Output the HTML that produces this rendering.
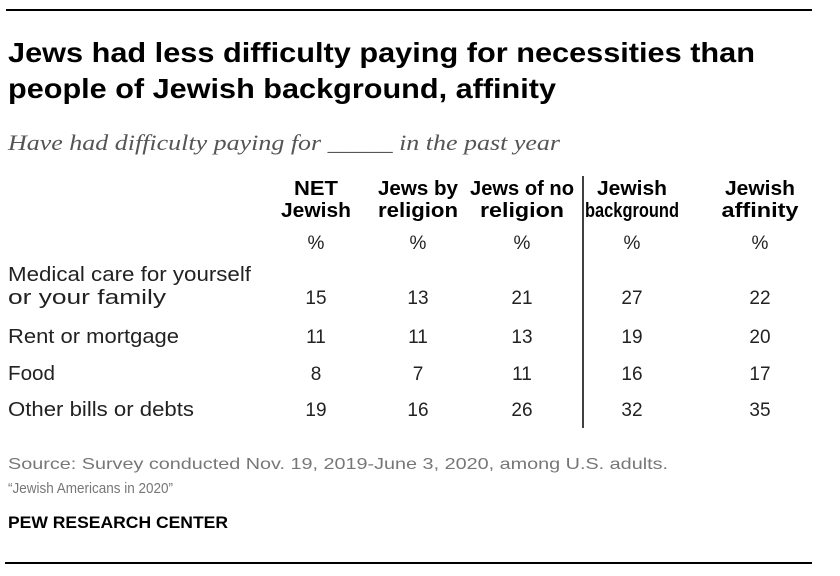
<!DOCTYPE html>
<html><head><meta charset="utf-8"><style>
body{margin:0;background:#fff}
svg{display:block}
text{font-family:"Liberation Sans",sans-serif}
.t{font-weight:bold;font-size:28px;fill:#000}
.h{font-weight:bold;font-size:20px;fill:#000;text-anchor:middle}
.c{font-size:20px;fill:#222}
.v{font-size:19px;fill:#222;text-anchor:middle}
.s{font-size:16px;fill:#777}
</style></head><body>
<svg id="chart" width="840" height="576" viewBox="0 0 840 576" xmlns="http://www.w3.org/2000/svg">
<line x1="6" y1="10" x2="812" y2="10" stroke="#000" stroke-width="2"/>
<text class="t" x="8" y="62" textLength="747" lengthAdjust="spacingAndGlyphs">Jews had less difficulty paying for necessities than</text>
<text class="t" x="8" y="98" textLength="548" lengthAdjust="spacingAndGlyphs">people of Jewish background, affinity</text>
<text x="8" y="150" textLength="552" lengthAdjust="spacingAndGlyphs" style="font-family:'Liberation Serif',serif;font-style:italic;font-size:22px;fill:#555">Have had difficulty paying for _____ in the past year</text>
<line x1="583" y1="176" x2="583" y2="428" stroke="#000" stroke-width="1.5"/>
<g id="table"></g>
<text class="s" x="8" y="469" textLength="660" lengthAdjust="spacingAndGlyphs">Source: Survey conducted Nov. 19, 2019-June 3, 2020, among U.S. adults.</text>
<text x="8" y="493" textLength="165" lengthAdjust="spacingAndGlyphs" style="font-size:15px;fill:#777">“Jewish Americans in 2020”</text>
<text x="8" y="528" textLength="220" lengthAdjust="spacingAndGlyphs" style="font-weight:bold;font-size:17px;fill:#000">PEW RESEARCH CENTER</text>
<line x1="5" y1="563" x2="812" y2="563" stroke="#000" stroke-width="2"/>
</svg>
<script>
const columnsLine1 = ["NET","Jews by","Jews of no","Jewish","Jewish"];
const columnsLine2 = ["Jewish","religion","religion","background","affinity"];
const categories = [["Medical care for yourself","or your family"],["Rent or mortgage"],["Food"],["Other bills or debts"]];
const netJewish = [15,11,8,19];
const jewsByReligion = [13,11,7,16];
const jewsOfNoReligion = [21,13,11,26];
const jewishBackground = [27,19,16,32];
const jewishAffinity = [22,20,17,35];
const series = [netJewish,jewsByReligion,jewsOfNoReligion,jewishBackground,jewishAffinity];
const colX = [316,418,522,632,760];
const rowY = [304,343,380,416];
const NS = "http://www.w3.org/2000/svg";
const g = document.getElementById('table');
function txt(cls, x, y, s, w){
  const t = document.createElementNS(NS,'text');
  t.setAttribute('class',cls); t.setAttribute('x',x); t.setAttribute('y',y);
  if(w){t.setAttribute('textLength',w);t.setAttribute('lengthAdjust','spacingAndGlyphs');}
  t.textContent = s; g.appendChild(t); return t;
}
const hw1=[44,80,104,70,70], hw2=[70,80,84,94,77];
columnsLine1.forEach((c,i)=>{
  const a = txt('h', colX[i], 195, c, hw1[i]);
  
  
  const b = txt('h', colX[i], 217, columnsLine2[i], hw2[i]);
  
  
  const p = txt('v', colX[i], 249, '%');
  
  
});
const lw = {"Medical care for yourself":243,"or your family":158,"Rent or mortgage":171,"Food":47,"Other bills or debts":186};
categories.forEach((cat,r)=>{
  cat.forEach((line,k)=>{
    const y = rowY[r] - (cat.length-1-k)*23;
    const t = txt('c', 8, y, line, lw[line]);
    
    
  });
  series.forEach((s,i)=>{
    const v = txt('v', colX[i], rowY[r], String(s[r]));
    
    
  });
});
</script>
</body></html>
